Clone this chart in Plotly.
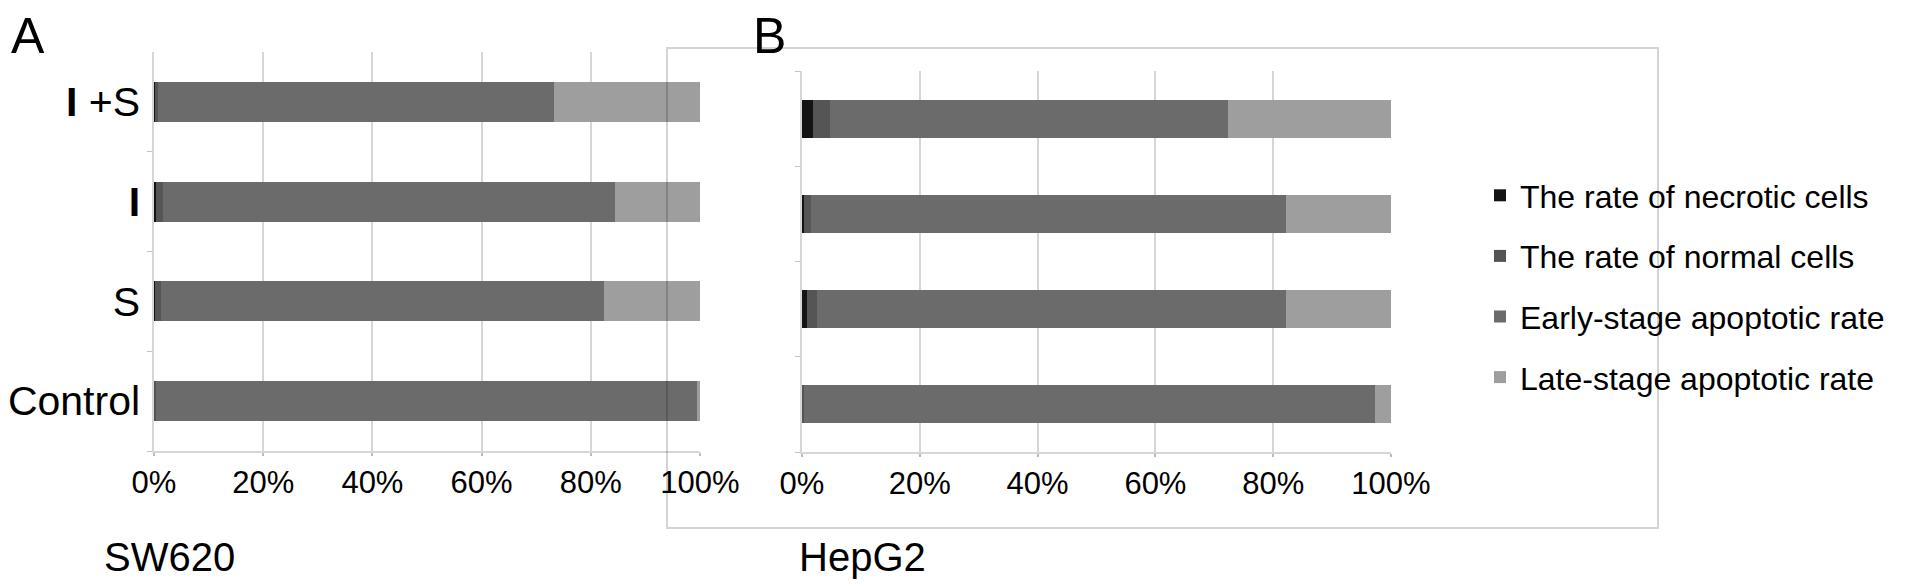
import plotly.graph_objects as go

# ---------------- data ----------------
categories = ["I+S", "I", "S", "Control"]
category_labels = ["<b>I</b> +S", "<b>I</b>", "S", "Control"]
series_names = [
    "The rate of necrotic cells",
    "The rate of normal cells",
    "Early-stage apoptotic rate",
    "Late-stage apoptotic rate",
]

# SW620 (panel A), percent of each bar
sw620_necrotic = [0.2, 0.3, 0.2, 0.0]
sw620_normal = [0.6, 1.4, 1.0, 0.3]
sw620_early = [72.4, 82.8, 81.3, 99.2]
sw620_late = [26.8, 15.5, 17.5, 0.5]

# HepG2 (panel B)
hepg2_necrotic = [1.9, 0.4, 0.8, 0.1]
hepg2_normal = [2.9, 1.2, 1.8, 0.3]
hepg2_early = [67.6, 80.5, 79.5, 96.8]
hepg2_late = [27.6, 17.9, 17.9, 2.8]

x_tickvals = [0, 20, 40, 60, 80, 100]
x_ticktext = ["0%", "20%", "40%", "60%", "80%", "100%"]

# ---------------- style ----------------
colors = ["#141414", "#555555", "#6b6b6b", "#9e9e9e"]
FONT = "Liberation Sans, Arial, sans-serif"
W, H = 1913, 588
OFF = 8  # page body margin
GRID = "#d6d6d6"


def px(x):
    return (x - OFF) / W


def py(y):
    return 1 - (y - OFF) / H


fig = go.Figure()

panelA = [sw620_necrotic, sw620_normal, sw620_early, sw620_late]
panelB = [hepg2_necrotic, hepg2_normal, hepg2_early, hepg2_late]

for i, vals in enumerate(panelA):
    fig.add_trace(go.Bar(
        y=categories, x=vals, orientation="h", name=series_names[i],
        marker=dict(color=colors[i], line=dict(width=0)),
        xaxis="x", yaxis="y", showlegend=False, legendgroup=f"g{i}",
    ))
for i, vals in enumerate(panelB):
    fig.add_trace(go.Bar(
        y=categories, x=vals, orientation="h", name=series_names[i],
        marker=dict(color=colors[i], line=dict(width=0)),
        xaxis="x2", yaxis="y2", showlegend=True, legendgroup=f"g{i}",
    ))

xaxis_common = dict(
    range=[0, 100], tickvals=x_tickvals, ticktext=x_ticktext,
    showgrid=True, gridcolor=GRID, gridwidth=1.5,
    showline=True, linecolor=GRID, linewidth=1.5,
    ticks="outside", ticklen=3, tickcolor="#bbbbbb", tickwidth=2,
    zeroline=False, fixedrange=True, automargin=False,
    tickfont=dict(family=FONT, size=31, color="#000000"),
    ticklabelstandoff=0,
)
yaxis_common = dict(
    type="category", categoryorder="array",
    categoryarray=list(reversed(categories)),
    range=[-0.5, 3.5],
    showgrid=False, showline=True, linecolor=GRID, linewidth=1.5,
    ticks="outside", tickson="boundaries", ticklen=5, tickcolor="#c4c4c4",
    zeroline=False, fixedrange=True, automargin=False,
)

fig.update_layout(
    width=W, height=H,
    margin=dict(l=0, r=0, t=0, b=0, autoexpand=False),
    paper_bgcolor="white", plot_bgcolor="white",
    barmode="stack", bargap=0.6,
    font=dict(family=FONT, color="#000000"),
    xaxis=dict(domain=[px(154), px(700)], anchor="y", **xaxis_common),
    yaxis=dict(domain=[py(451), py(52)], anchor="x",
               tickvals=categories, ticktext=category_labels,
               tickfont=dict(family=FONT, size=41, color="#000000"),
               ticklabelstandoff=4,
               **yaxis_common),
    xaxis2=dict(domain=[px(802), px(1391)], anchor="y2", **xaxis_common),
    yaxis2=dict(domain=[py(452), py(71)], anchor="x2", showticklabels=False,
                **yaxis_common),
    legend=dict(
        x=px(1480), y=py(168), xanchor="left", yanchor="top",
        font=dict(family=FONT, size=32, color="#000000"),
        traceorder="grouped", tracegroupgap=16,
        bgcolor="rgba(0,0,0,0)", itemwidth=30,
    ),
    shapes=[
        dict(type="rect", xref="paper", yref="paper",
             x0=px(667), x1=px(1658), y0=py(528), y1=py(48),
             line=dict(color="rgba(0,0,0,0.17)", width=2),
             fillcolor="rgba(0,0,0,0)", layer="above"),
    ],
    annotations=[
        dict(text="A", x=px(9), y=py(6), xref="paper", yref="paper",
             xanchor="left", yanchor="top", showarrow=False,
             font=dict(family=FONT, size=50, color="#000000")),
        dict(text="B", x=px(751), y=py(6), xref="paper", yref="paper",
             xanchor="left", yanchor="top", showarrow=False,
             font=dict(family=FONT, size=50, color="#000000")),
        dict(text="SW620", x=px(102), y=py(533), xref="paper", yref="paper",
             xanchor="left", yanchor="top", showarrow=False,
             font=dict(family=FONT, size=40, color="#000000")),
        dict(text="HepG2", x=px(797), y=py(533), xref="paper", yref="paper",
             xanchor="left", yanchor="top", showarrow=False,
             font=dict(family=FONT, size=40, color="#000000")),
    ],
)

fig.write_html("out.html")
